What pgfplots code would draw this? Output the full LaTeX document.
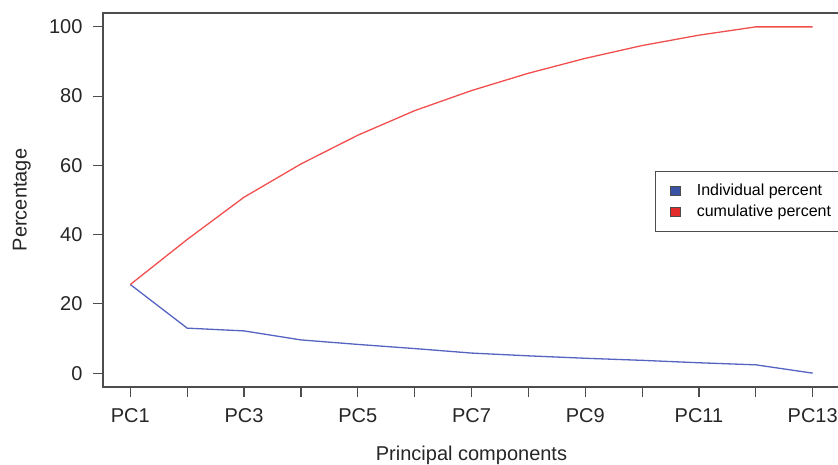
\documentclass[border=0pt]{standalone}
\usepackage{fontspec}
\setmainfont{Liberation Sans}
\usepackage{pgfplots}
\pgfplotsset{compat=1.18}
\definecolor{lineblue}{HTML}{5563C1}
\definecolor{linered}{HTML}{F24E4E}
\definecolor{fillblue}{HTML}{3A53A4}
\definecolor{fillred}{HTML}{E32B2B}
\definecolor{axgray}{HTML}{4D4D4D}
\begin{document}
\begin{tikzpicture}
\path[use as bounding box, clip] (0,0) rectangle (838bp,-465bp);
\begin{axis}[
    at={(103bp,-387bp)}, anchor=south west,
    scale only axis, width=737bp, height=374bp,
    xmin=0.52, xmax=13.48, ymin=-4, ymax=104,
    axis line style={draw=axgray, line width=1.2bp},
    tick style={draw=axgray, line width=1.2bp},
    tick align=outside, major tick length=10bp,
    tick pos=left,
    xtick={1,...,13},
    xticklabels={PC1,,PC3,,PC5,,PC7,,PC9,,PC11,,PC13},
    ytick={0,20,...,100},
    ticklabel style={font=\fontsize{20bp}{24bp}\selectfont, text=black!85},
    xticklabel style={yshift=-8bp},
    yticklabel style={xshift=-7bp},
    /pgf/number format/assume math mode=true,
    xlabel={Principal components}, ylabel={Percentage},
    label style={font=\fontsize{20bp}{24bp}\selectfont, text=black!85},
    xlabel style={at={(axis description cs:0.5,-0.182)}, anchor=center},
    ylabel style={at={(axis description cs:-0.110,0.5)}, anchor=center},
    legend cell align=left,
    legend style={at={(0.749,0.578)}, anchor=north west, draw=axgray,
        line width=1bp, font=\fontsize{16bp}{19bp}\selectfont,
        inner xsep=14bp, inner ysep=11bp, row sep=4bp,
        /tikz/every odd column/.append style={column sep=14bp}},
]
\addplot[lineblue, line width=1.3bp,
    legend image code/.code={\draw[draw=black!70, line width=0.8bp, fill=fillblue] (0bp,-4.5bp) rectangle (10.5bp,4.5bp);}]
    coordinates {
    (1,25.6) (2,13.0) (3,12.2) (4,9.6) (5,8.3) (6,7.1) (7,5.8)
    (8,5.0) (9,4.3) (10,3.7) (11,3.0) (12,2.4) (13,0.0)
};
\addplot[linered, line width=1.3bp,
    legend image code/.code={\draw[draw=black!70, line width=0.8bp, fill=fillred] (0bp,-4.5bp) rectangle (10.5bp,4.5bp);}]
    coordinates {
    (1,25.6) (2,38.6) (3,50.8) (4,60.4) (5,68.7) (6,75.8) (7,81.6)
    (8,86.6) (9,90.9) (10,94.6) (11,97.6) (12,100.0) (13,100.0)
};
\legend{Individual percent, cumulative percent}
\end{axis}
\end{tikzpicture}
\end{document}
